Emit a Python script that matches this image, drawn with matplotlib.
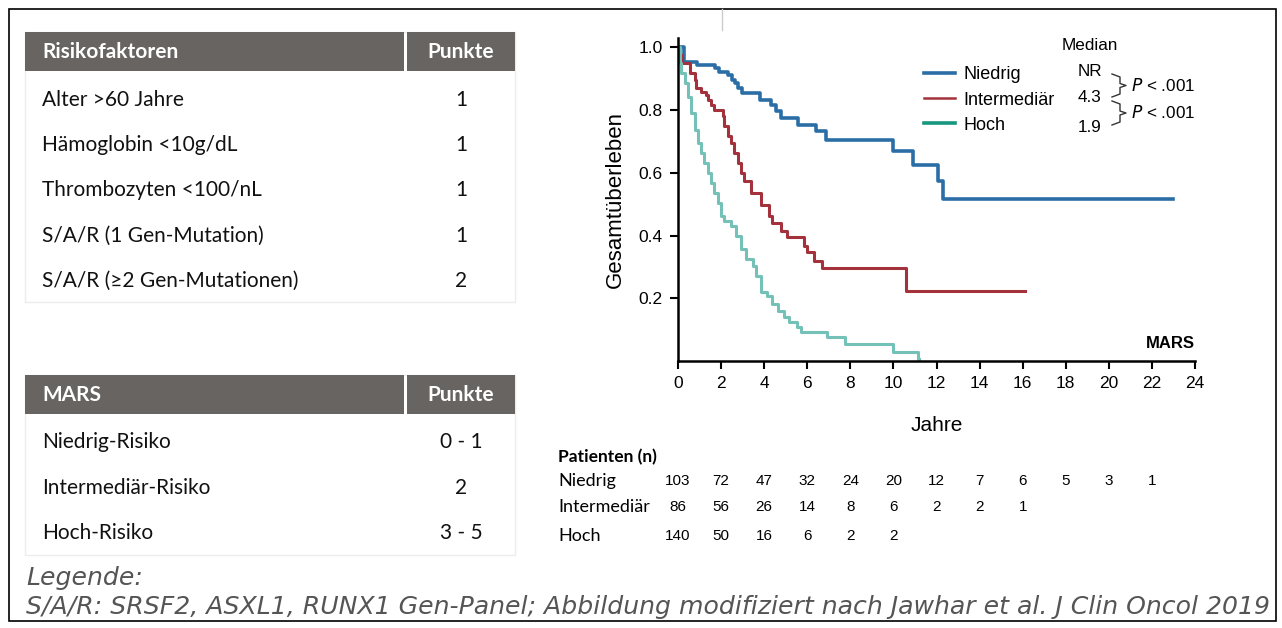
import matplotlib.pyplot as plt
from matplotlib.lines import Line2D
from matplotlib.patches import Rectangle
import matplotlib.transforms as mtransforms

# ---- data ----
risk_factors = ["Alter >60 Jahre", "Hämoglobin <10g/dL", "Thrombozyten <100/nL",
                "S/A/R (1 Gen-Mutation)", "S/A/R (≥2 Gen-Mutationen)"]
risk_points = ["1", "1", "1", "1", "2"]
mars_groups = ["Niedrig-Risiko", "Intermediär-Risiko", "Hoch-Risiko"]
mars_points = ["0 - 1", "2", "3 - 5"]

groups = ["Niedrig", "Intermediär", "Hoch"]
medians = ["NR", "4.3", "1.9"]

t_low = [0, 0.3, 0.9, 1.7, 1.9, 2.3, 2.5, 2.65, 2.8, 2.95, 3.8, 4.3, 4.55, 4.8,
         5.55, 6.4, 6.85, 10.0, 10.9, 12.05, 12.3, 23.0]
s_low = [1.0, 0.954, 0.944, 0.933, 0.923, 0.912, 0.896, 0.886, 0.870, 0.854, 0.833,
         0.817, 0.796, 0.775, 0.753, 0.732, 0.706, 0.669, 0.626, 0.574, 0.515, 0.515]

t_mid = [0, 0.1, 0.2, 0.54, 0.77, 0.85, 1.08, 1.31, 1.4, 1.54, 1.69, 2.08, 2.15,
         2.31, 2.46, 2.62, 2.77, 2.92, 3.08, 3.38, 3.85, 4.23, 4.38, 4.77, 5.08,
         5.85, 6.0, 6.31, 6.69, 10.6, 16.1]
s_mid = [1.0, 0.976, 0.949, 0.917, 0.896, 0.870, 0.859, 0.849, 0.833, 0.817, 0.801,
         0.780, 0.748, 0.716, 0.695, 0.663, 0.632, 0.600, 0.574, 0.537, 0.499, 0.462,
         0.441, 0.415, 0.394, 0.367, 0.346, 0.320, 0.298, 0.224, 0.224]

t_high = [0, 0.08, 0.15, 0.31, 0.46, 0.62, 0.77, 0.92, 1.08, 1.23, 1.38, 1.54, 1.69,
          1.85, 2.0, 2.15, 2.46, 2.69, 2.92, 3.15, 3.46, 3.62, 3.85, 4.15, 4.38, 4.62,
          4.92, 5.15, 5.54, 5.69, 6.92, 7.77, 10.0, 11.15, 11.2]
s_high = [1.0, 0.949, 0.917, 0.886, 0.843, 0.790, 0.738, 0.695, 0.663, 0.632, 0.600,
          0.568, 0.537, 0.505, 0.462, 0.446, 0.431, 0.399, 0.357, 0.325, 0.304, 0.272,
          0.219, 0.208, 0.182, 0.161, 0.140, 0.124, 0.108, 0.092, 0.076, 0.055, 0.029,
          0.005, 0.005]

at_risk_times = [0, 2, 4, 6, 8, 10, 12, 14, 16, 18, 20, 22]
n_low = [103, 72, 47, 32, 24, 20, 12, 7, 6, 5, 3, 1]
n_mid = [86, 56, 26, 14, 8, 6, 2, 2, 1]
n_high = [140, 50, 16, 6, 2, 2]

# ---- style ----
W, H = 1282, 628
col_low = "#2b6ea6"
col_mid = "#a3323c"
col_high = "#74c1b7"
col_high_leg = "#17977f"
hdr_col = "#686462"
tfont = "Lato"
afont = "Liberation Sans"


def fx(px):
    return px / W


def fy(py):
    return 1 - py / H


fig = plt.figure(figsize=(W / 100, H / 100), dpi=100)

# outer frame
fig.patches.append(Rectangle((fx(9), fy(621)), fx(1267), 612 / H, transform=fig.transFigure,
                             fill=False, edgecolor="black", lw=1.2))
fig.add_artist(Line2D([fx(722), fx(722)], [fy(9), fy(30)], color="#cccccc", lw=1))


# ---- left tables ----
def draw_table(top, bottom, head, head_pts, rows, pts, row_y):
    fig.patches.append(Rectangle((fx(25), fy(bottom)), fx(490), (bottom - top) / H,
                                 transform=fig.transFigure, facecolor="white",
                                 edgecolor="#ececec", lw=1))
    fig.patches.append(Rectangle((fx(25), fy(top + 39)), fx(379), 39 / H,
                                 transform=fig.transFigure, facecolor=hdr_col, edgecolor="none"))
    fig.patches.append(Rectangle((fx(407), fy(top + 39)), fx(108), 39 / H,
                                 transform=fig.transFigure, facecolor=hdr_col, edgecolor="none"))
    fig.text(fx(42), fy(top + 20), head, color="white", fontsize=15, fontweight="bold",
             family=tfont, va="center", ha="left")
    fig.text(fx(461), fy(top + 20), head_pts, color="white", fontsize=15, fontweight="bold",
             family=tfont, va="center", ha="center")
    for i, (r, p) in enumerate(zip(rows, pts)):
        fig.text(fx(42), fy(row_y[i]), r, fontsize=15, family=tfont, va="center", ha="left",
                 color="#111111")
        fig.text(fx(461), fy(row_y[i]), p, fontsize=15, family=tfont, va="center", ha="center",
                 color="#111111")


draw_table(32, 302, "Risikofaktoren", "Punkte", risk_factors, risk_points,
           [100, 145, 190, 236, 281])
draw_table(375, 555, "MARS", "Punkte", mars_groups, mars_points, [442, 488, 533])

# caption
fig.text(fx(26), fy(578), "Legende:", fontsize=18.1, style="italic", color="#555555",
         family="DejaVu Sans", va="center")
fig.text(fx(26), fy(607),
         "S/A/R: SRSF2, ASXL1, RUNX1 Gen-Panel; Abbildung modifiziert nach Jawhar et al. J Clin Oncol 2019",
         fontsize=18.1, style="italic", color="#555555", family="DejaVu Sans", va="center")

# ---- KM plot ----
ax = fig.add_axes([fx(678), fy(361), (1195 - 678) / W, (361 - 38) / H])
ax.step(t_low, s_low, where="post", color=col_low, lw=2.6)
ax.step(t_mid, s_mid, where="post", color=col_mid, lw=2.2)
ax.step(t_high, s_high, where="post", color=col_high, lw=2.2)
ax.set_xlim(0, 24)
ax.set_ylim(0, 1.03)
ax.set_xticks(range(0, 25, 2))
ax.set_yticks([0.2, 0.4, 0.6, 0.8, 1.0])
ax.set_yticklabels(["0.2", "0.4", "0.6", "0.8", "1.0"])
for s in ["top", "right"]:
    ax.spines[s].set_visible(False)
for s in ["left", "bottom"]:
    ax.spines[s].set_linewidth(1.8)
ax.tick_params(direction="out", length=6, width=1.5, labelsize=12.5, pad=5)
for lbl in ax.get_xticklabels() + ax.get_yticklabels():
    lbl.set_family(afont)
ax.set_ylabel("Gesamtüberleben", fontsize=16, family=afont, labelpad=9)
ax.set_xlabel("Jahre", fontsize=15, family=afont, labelpad=18)
ax.text(1.0, 0.055, "MARS", transform=ax.transAxes, ha="right", va="center",
        fontsize=12, fontweight="bold", family=afont)

handles = [Line2D([], [], color=col_low, lw=2.6),
           Line2D([], [], color=col_mid, lw=1.8),
           Line2D([], [], color=col_high_leg, lw=2.6)]
ax.legend(handles, groups, loc="upper left", bbox_to_anchor=(0.458, 0.94), frameon=False,
          prop={"family": afont, "size": 13}, handlelength=1.75, labelspacing=0.45,
          handletextpad=0.45, borderpad=0)

fig.text(fx(1090), fy(46), "Median", fontsize=12.3, family=afont, ha="center", va="center")
for py, m in zip([72, 98, 127], medians):
    fig.text(fx(1090), fy(py), m, fontsize=12.3, family=afont, ha="center", va="center")

# brackets with p-values
for y0, y1 in [(74, 97), (101, 125)]:
    ym = (y0 + y1) / 2
    xs = [fx(1112), fx(1120), fx(1120), fx(1126), fx(1120), fx(1120), fx(1112)]
    ys = [fy(y0), fy(y0 + 3), fy(ym - 2), fy(ym), fy(ym + 2), fy(y1 - 3), fy(y1)]
    fig.add_artist(Line2D(xs, ys, color="#333333", lw=1))
    fig.text(fx(1131), fy(ym), "$P$ < .001", fontsize=12.3, family=afont, ha="left",
             va="center")

# ---- numbers at risk ----
trans = mtransforms.blended_transform_factory(ax.transData, fig.transFigure)
fig.text(fx(558), fy(457), "Patienten (n)", fontsize=12.5, fontweight="bold", family=tfont,
         va="center")
for name, counts, py in zip(groups, [n_low, n_mid, n_high], [481, 507, 536]):
    fig.text(fx(558), fy(py), name, fontsize=13, family=tfont, va="center")
    for t, n in zip(at_risk_times, counts):
        ax.text(t, fy(py), str(n), transform=trans, ha="center", va="center",
                fontsize=11, family=afont, clip_on=False)

fig.savefig("out.png", dpi=100)
